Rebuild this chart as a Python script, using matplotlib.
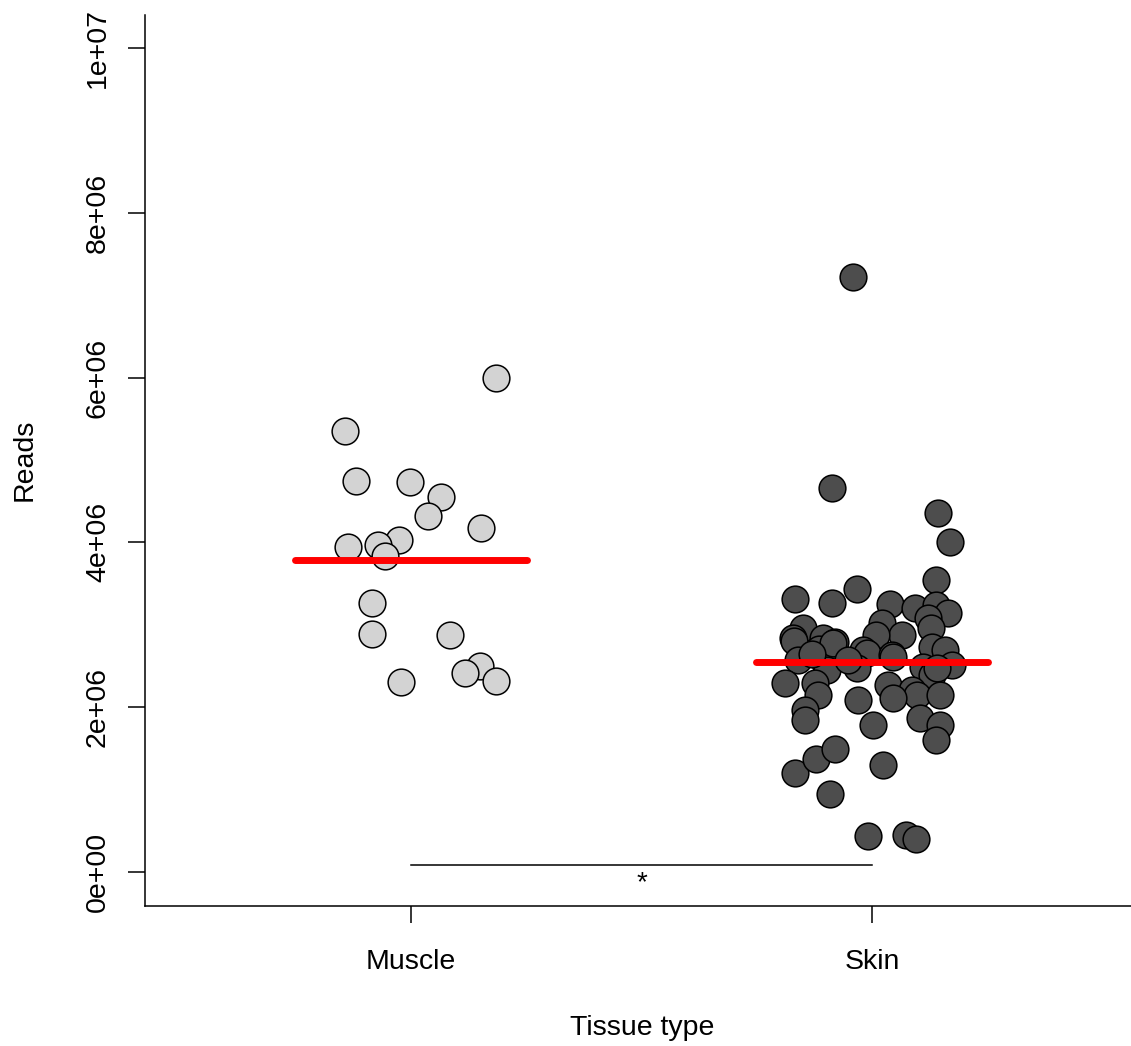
import numpy as np
import matplotlib.pyplot as plt

plt.rcParams["font.family"] = ["Liberation Sans", "DejaVu Sans"]

groups = ["Muscle", "Skin"]

# reads per sample and horizontal jitter used in the strip chart
muscle_reads = [6.00e6, 5.355e6, 4.74e6, 4.73e6, 4.555e6, 4.325e6, 4.17e6, 4.03e6, 3.95e6,
                3.965e6, 3.835e6, 3.27e6, 2.89e6, 2.875e6, 2.31e6, 2.50e6, 2.42e6, 2.32e6]
muscle_jitter = [0.184, -0.143, -0.119, -0.003, 0.066, 0.038, 0.151, -0.027, -0.137,
                 -0.072, -0.056, -0.085, -0.085, 0.085, -0.022, 0.150, 0.117, 0.185]

skin_reads = [7.22, 4.66, 4.36, 4.00, 3.54, 3.43, 3.31, 3.26, 3.25, 3.20, 3.24, 3.14, 3.08,
              2.96, 3.02, 2.88, 2.88, 2.96, 2.84, 2.80, 2.84, 2.79, 2.71, 2.69, 2.66, 2.63,
              2.73, 2.69, 2.57, 2.54, 2.48, 2.45, 2.29, 2.29, 2.15, 1.97, 1.84, 2.09, 2.61,
              2.49, 2.51, 2.39, 2.48, 2.27, 2.21, 2.15, 2.11, 2.15, 1.87, 1.78, 1.78, 1.60,
              1.30, 1.20, 1.37, 1.49, 0.95, 0.44, 0.45, 0.40, 2.78, 2.65, 2.57]
skin_reads = [v * 1e6 for v in skin_reads]
skin_jitter = [-0.041, -0.087, 0.143, 0.169, 0.139, -0.033, -0.167, -0.087, 0.039, 0.093,
               0.139, 0.165, 0.121, 0.128, 0.022, 0.065, 0.009, -0.150, -0.171, -0.169,
               -0.106, -0.080, -0.115, -0.020, -0.011, 0.043, 0.130, 0.158, -0.161, -0.102,
               -0.033, -0.098, -0.189, -0.124, -0.117, -0.145, -0.145, -0.030, 0.046, 0.111,
               0.174, 0.130, 0.141, 0.035, 0.087, 0.098, 0.046, 0.148, 0.104, 0.148, 0.002,
               0.139, 0.024, -0.167, -0.121, -0.080, -0.091, -0.009, 0.074, 0.095, -0.085,
               -0.130, -0.052]

fig = plt.figure(figsize=(11.31, 10.46), dpi=100)
ax = fig.add_axes([0.1282, 0.1338, 0.8718, 0.8519])

for i, (reads, jit, col) in enumerate([(muscle_reads, muscle_jitter, "#D3D3D3"),
                                        (skin_reads, skin_jitter, "#4D4D4D")]):
    xpos = i + 1 + np.array(jit)
    ax.scatter(xpos, reads, s=370, c=col, edgecolors="black", linewidths=1.1, zorder=2)
    m = np.mean(reads)
    ax.plot([i + 1 - 0.252, i + 1 + 0.252], [m, m], color="red", lw=5,
            solid_capstyle="round", zorder=3)

# significance bracket
ax.plot([1, 2], [0.085e6, 0.085e6], color="black", lw=1.1, zorder=1)
ax.text(1.5, -0.14e6, "*", ha="center", va="center", fontsize=20)

ax.set_xlim(0.423, 2.562)
ax.set_ylim(-0.4126e6, 10.40e6)
ax.set_xticks([1, 2])
ax.set_xticklabels(groups)
ax.set_yticks(np.arange(0, 1.01e7, 2e6))
ax.set_yticklabels(["0e+00", "2e+06", "4e+06", "6e+06", "8e+06", "1e+07"],
                   rotation=90, va="center")
ax.tick_params(axis="both", length=12, width=1.1, labelsize=20.5, direction="out")
ax.tick_params(axis="y", pad=12.5)
ax.tick_params(axis="x", pad=19)
for s in ["top", "right"]:
    ax.spines[s].set_visible(False)
for s in ["left", "bottom"]:
    ax.spines[s].set_linewidth(1.1)

fig.text(25 / 1131, 1 - 460 / 1046, "Reads", rotation=90, ha="center", va="center", fontsize=20.5)
fig.text(642 / 1131, 1 - 1028 / 1046, "Tissue type", ha="center", va="center", fontsize=20.5)

fig.savefig("out.png", dpi=100)
